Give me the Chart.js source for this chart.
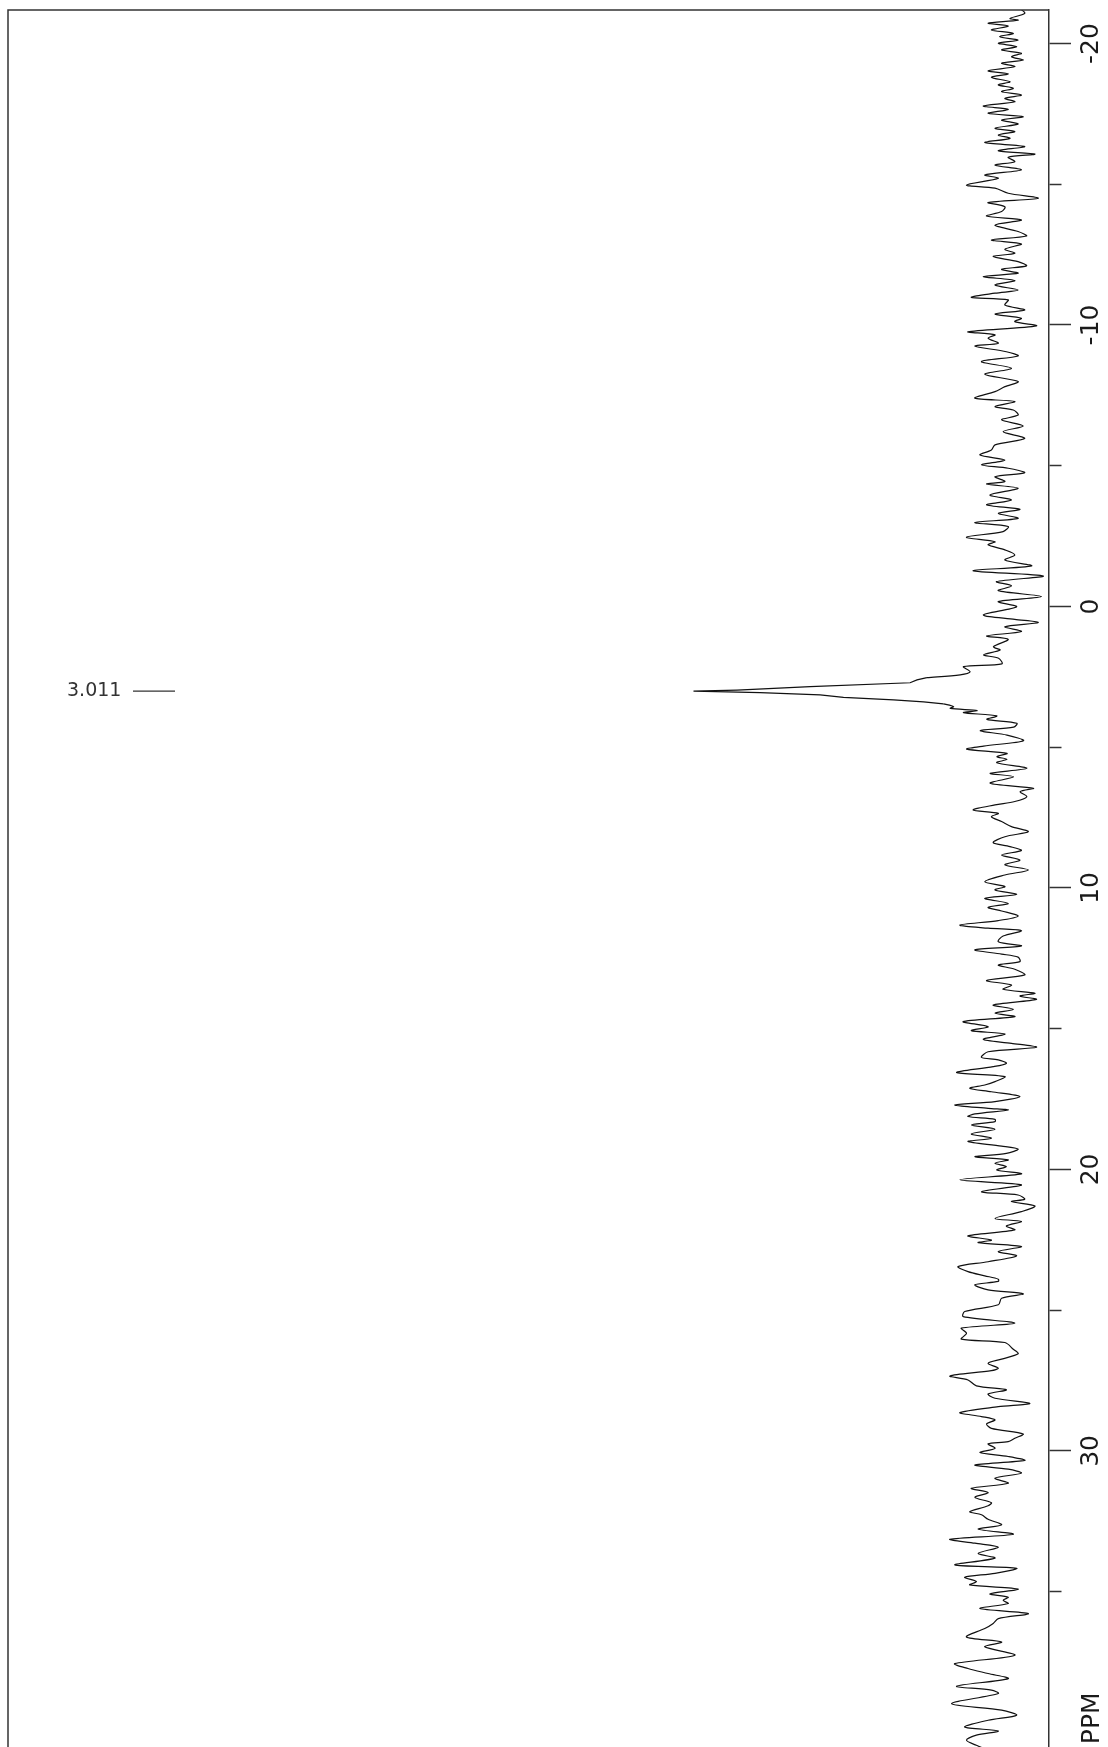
<!DOCTYPE html>
<html>
<head>
<meta charset="utf-8">
<script src="https://cdn.jsdelivr.net/npm/chart.js@4"></script>
<style>
  html, body { margin: 0; padding: 0; background: #fff; overflow: hidden; }
</style>
</head>
<body>
<canvas id="nmr" width="1108" height="1747"></canvas>
<script>
// chemical shift (ppm) of each trace point, top of the plot to bottom
const ppm = [
  -21.25, -21.07, -20.89, -20.83, -20.72, -20.62, -20.48, -20.36, -20.24, -20.12,
  -20.01, -19.89, -19.77, -19.65, -19.53, -19.41, -19.30, -19.18, -19.03, -18.92,
  -18.80, -18.64, -18.53, -18.41, -18.29, -18.17, -18.05, -17.93, -17.78, -17.66,
  -17.52, -17.40, -17.28, -17.14, -16.99, -16.87, -16.75, -16.63, -16.48, -16.34,
  -16.19, -16.07, -15.96,
  -15.80, -15.68, -15.51, -15.33, -15.21, -14.97, -14.86, -14.68, -14.50, -14.35,
  -14.20, -14.03, -13.87, -13.73, -13.55, -13.32, -13.16, -13.02, -12.88, -12.69,
  -12.55, -12.43, -12.25, -12.10, -11.98, -11.84, -11.72, -11.58, -11.42, -11.24,
  -11.13, -10.98, -10.89, -10.71, -10.53, -10.39, -10.24,
  -10.12, -9.97, -9.76, -9.65, -9.53, -9.35, -9.25, -9.05, -8.90, -8.70,
  -8.46, -8.25, -7.99, -7.81, -7.63, -7.40, -7.28, -7.10, -6.98, -6.80,
  -6.63, -6.41, -6.21, -5.97, -5.74, -5.56, -5.38, -5.20, -5.03, -4.91,
  -4.75, -4.61,
  -4.44, -4.35, -4.20, -3.96, -3.78, -3.61, -3.45, -3.31, -3.13, -2.98,
  -2.84, -2.66, -2.46, -2.30, -2.19, -2.01, -1.83, -1.65, -1.44, -1.27,
  -1.08, -0.88, -0.73, -0.56, -0.35, -0.17, 0.01, 0.30, 0.46, 0.57,
  0.72, 0.89, 1.05, 1.17,
  1.43, 1.55, 1.72, 1.84, 2.04, 2.14, 2.32, 2.43, 2.53, 2.61,
  2.71, 2.85, 2.97, 3.011, 3.06, 3.14, 3.23, 3.32, 3.39, 3.46,
  3.56, 3.62, 3.70, 3.77, 3.89, 4.01, 4.15, 4.29, 4.41, 4.57,
  4.77, 4.96, 5.07, 5.22, 5.34, 5.43, 5.55, 5.75, 5.93, 6.05,
  6.28, 6.46, 6.58, 6.76,
  6.93, 7.05, 7.23, 7.35, 7.47, 7.64, 7.82, 8.00, 8.18, 8.39,
  8.53, 8.67, 8.83, 9.01, 9.18, 9.36, 9.54, 9.78, 9.95, 10.07,
  10.23, 10.37, 10.55, 10.69, 10.82, 11.00, 11.16, 11.32, 11.43, 11.52,
  11.71, 11.91, 12.06, 12.20, 12.35, 12.46,
  12.62, 12.74, 12.89, 13.09, 13.29, 13.45, 13.60, 13.74, 13.84, 13.96,
  14.16, 14.31, 14.45, 14.57, 14.75, 14.93, 15.07, 15.19, 15.38, 15.52,
  15.66, 15.82, 16.02, 16.11, 16.23, 16.35, 16.56, 16.70, 16.88, 17.00,
  17.12, 17.24, 17.41, 17.59, 17.71, 17.83, 17.89, 18.03, 18.12, 18.22,
  18.30, 18.42, 18.57, 18.74, 18.89, 19.01, 19.17, 19.28, 19.43, 19.55,
  19.66, 19.78, 19.90, 20.02, 20.16, 20.37, 20.55, 20.79, 20.91, 21.06,
  21.14, 21.30, 21.50, 21.74, 21.85, 22.01, 22.15, 22.36, 22.51, 22.60,
  22.74, 22.92, 23.07, 23.28, 23.45, 23.63, 23.78, 23.90,
  23.98, 24.10, 24.28, 24.42, 24.58, 24.81, 25.05, 25.23, 25.46, 25.64,
  25.82, 26.03, 26.15, 26.39, 26.55, 26.74, 26.89, 27.06, 27.15, 27.34,
  27.48, 27.69, 27.83, 27.98, 28.13, 28.31, 28.43, 28.64, 28.78, 28.90,
  29.04, 29.20, 29.40, 29.55,
  29.67, 29.75, 29.91, 30.06, 30.20, 30.34, 30.50, 30.65, 30.79, 30.97,
  31.15, 31.33, 31.48, 31.65, 31.84, 31.95, 32.16, 32.27, 32.43, 32.63,
  32.78, 32.96, 33.14, 33.28, 33.42, 33.64, 33.81, 34.05, 34.17, 34.35,
  34.49, 34.64, 34.76, 34.91, 35.08, 35.20,
  35.31, 35.42, 35.60, 35.78, 35.96, 36.13, 36.31, 36.61, 36.79, 36.96,
  37.26, 37.56, 37.73, 37.91, 38.09, 38.36, 38.50, 38.62, 38.98, 39.21,
  39.39, 39.57, 39.81, 39.95, 40.10, 40.28, 40.46, 40.63
];

// signal intensity (arbitrary units), same order as ppm
const intensity = [
  -6.6, -8.2, -3.3, -6.0, 4.0, -2.7, 2.9, -4.4, 0.1, -6.0,
  0.6, -5.5, -0.5, -7.1, -3.8, -7.7, -0.5, -4.9, 4.0, -2.7,
  2.9, -3.3, 0.6, -4.4, -0.5, -7.1, -1.6, -4.9, 5.6, -2.7,
  4.0, -7.7, -0.5, -6.0, 1.7, -4.9, 0.6, -3.3, 5.1, -8.2,
  0.6, -11.6, -2.7,
  -4.9, 1.7, -7.1, 5.1, 0.6, 11.2, 1.7, -2.7, -12.7, 4.0,
  -1.6, -0.5, 4.5, -7.1, 1.7, -6.0, -8.8, 2.9, -7.1, -1.6,
  -4.9, 2.3, -6.0, -8.8, -0.5, -6.0, 5.6, -4.9, 1.7, -6.0,
  1.7, 9.6, -2.7, -1.6, -8.2, 1.7, -7.1,
  -4.9, -12.1, 10.7, 1.7, 4.0, 0.6, 8.4, -2.1, -6.0, 6.2,
  -3.8, 5.1, -6.0, -1.6, 1.7, 8.4, -4.9, 1.7, -4.4, -6.0,
  -0.5, -7.7, -1.0, -8.2, 1.7, 2.9, 6.7, -1.6, 6.2, -2.7,
  -8.2, 1.7,
  -1.6, 4.5, -6.0, 3.4, -3.8, 4.5, -6.6, 0.6, -6.0, 8.4,
  -2.7, -1.0, 11.2, 1.7, 4.0, -1.6, -4.9, -1.6, -10.5, 9.0,
  -14.4, 1.2, -3.8, 0.6, -13.8, 0.6, -5.5, 5.6, -4.9, -12.7,
  -1.6, -7.1, 4.5, -2.7,
  2.2, 0.0, 5.5, 0.5, -0.6, 12.2, 10.0, 13.3, 24.4, 27.7,
  30.0, 63.3, 87.7, 102.2, 80.0, 60.0, 52.2, 35.5, 25.5, 18.9,
  15.5, 16.6, 7.7, 12.2, 1.1, 4.4, -5.6, -4.5, 6.6, -2.3,
  -7.8, 5.5, 11.1, -2.3, 1.1, -2.3, 1.1, -8.9, 3.3, -4.5,
  3.3, -11.1, -6.7, -8.9,
  -4.9, 1.7, 9.0, 0.6, 2.9, -0.5, -3.8, -9.4, -1.6, 2.3,
  -3.3, -7.1, -0.5, -6.6, -1.6, -9.4, -1.6, 5.1, -1.6, 1.7,
  -5.5, 5.1, -2.7, 4.0, -0.5, -6.0, 0.6, 13.4, 4.0, -7.1,
  -1.0, 0.6, -7.1, 8.4, -0.5, -6.0,
  -6.6, 0.6, -4.9, -8.2, 4.5, -3.8, -1.0, -11.6, -6.6, -12.1,
  2.3, -4.4, 1.7, -4.9, 12.3, 4.0, 9.6, -1.6, 5.6, -3.8,
  -12.1, 4.0, 6.2, 0.6, -2.1, 2.3, 14.5, -1.6, 1.7, 5.1,
  10.1, 2.9, -6.6, 1.7, 15.1, 4.0, -2.7, 8.4, 10.7, 1.7,
  1.7, 9.6, 1.7, 9.6, 2.9, 10.7, -0.5, -6.0, -2.1, 8.4,
  -2.7, 1.7, -2.1, 1.1, -7.1, 13.4, -7.1, 6.2, -6.0, -8.2,
  -3.8, -11.6, -7.1, 1.7, -7.1, -2.1, -4.9, 10.7, 2.9, 7.3,
  -7.1, 0.6, -5.5, 4.0, 14.0, 10.7, 5.1, 0.6,
  0.6, 8.4, 4.0, -7.7, -0.5, 0.6, 11.8, 12.3, -4.9, 12.9,
  11.2, 12.9, -1.6, -4.4, -6.0, -0.5, 4.0, 0.6, 2.9, 16.7,
  10.7, 7.9, -2.1, 4.0, 1.7, -9.9, 0.6, 13.4, 6.2, 1.7,
  4.5, 2.9, -7.7, -4.9,
  -2.7, 4.0, 1.7, 6.7, -2.7, -8.2, 8.4, -2.7, -7.1, 1.7,
  -2.7, 9.6, 4.0, 8.4, 2.9, 4.0, 10.1, 6.2, 4.0, -0.5,
  7.3, -4.4, 16.7, 8.4, 0.6, 7.3, 1.7, 15.1, -5.5, 1.7,
  11.8, 7.9, 10.1, -6.0, 3.4, -2.7,
  -1.0, -2.7, 6.7, -9.4, 0.6, 2.3, 5.1, 11.2, -0.5, 5.1,
  -4.9, 15.1, 10.7, 4.0, -2.7, 14.5, 2.9, 0.6, 16.2, -0.5,
  -5.5, 4.0, 11.8, 0.6, 7.9, 11.2, 7.9, 4.0
];

// axis ticks: labelled every 10 ppm, plain marks in between
const ppmTicks = [-20, -15, -10, -5, 0, 5, 10, 15, 20, 25, 30, 35];
const labelledTicks = [-20, -10, 0, 10, 20, 30];
const ppmRange = [-21.19, 40.52];
const intensityRange = [-16.3, 330.7];

const peakShift = 3.011;
const peakLabel = '3.011';
const peakBase = [2.53, 3.46];   // the peak itself is drawn with straight segments
const unitLabel = 'PPM';
const unitAt = 39.5;

if (ppm.length !== intensity.length) console.error('length mismatch', ppm.length, intensity.length);

const points = ppm.map((p, i) => ({ x: intensity[i], y: p }));
const noiseBefore = points.filter(p => p.y <= peakBase[0]);
const peakPart = points.filter(p => p.y >= peakBase[0] && p.y <= peakBase[1]);
const noiseAfter = points.filter(p => p.y >= peakBase[1]);

const FONT = '"DejaVu Sans", Verdana, sans-serif';

const trace = (data, tension) => ({
  data,
  showLine: true,
  borderColor: '#111',
  borderWidth: 1.2,
  pointRadius: 0,
  tension,
  fill: false
});

const extras = {
  id: 'extras',
  afterDraw(chart) {
    const { ctx, chartArea: a, scales: { y } } = chart;
    ctx.save();
    // left and top sides of the frame
    ctx.strokeStyle = '#333';
    ctx.lineWidth = 1.5;
    ctx.beginPath();
    ctx.moveTo(a.left, a.bottom + 2);
    ctx.lineTo(a.left, a.top);
    ctx.lineTo(a.right, a.top);
    ctx.stroke();

    // peak marker
    const py = y.getPixelForValue(peakShift);
    ctx.fillStyle = '#333';
    ctx.font = '19px ' + FONT;
    ctx.textAlign = 'left';
    ctx.textBaseline = 'middle';
    ctx.fillText(peakLabel, 67, py);
    ctx.lineWidth = 1.2;
    ctx.beginPath();
    ctx.moveTo(133, py);
    ctx.lineTo(175, py);
    ctx.stroke();

    // unit label, written bottom-to-top like the tick labels
    ctx.translate(1092, y.getPixelForValue(unitAt));
    ctx.rotate(-Math.PI / 2);
    ctx.font = '25px ' + FONT;
    ctx.fillStyle = '#1a1a1a';
    ctx.textAlign = 'center';
    ctx.fillText(unitLabel, 0, 0);
    ctx.restore();
  }
};

new Chart(document.getElementById('nmr'), {
  type: 'scatter',
  data: {
    datasets: [trace(noiseBefore, 0.3), trace(peakPart, 0), trace(noiseAfter, 0.3)]
  },
  options: {
    responsive: false,
    animation: false,
    devicePixelRatio: 1,
    layout: { padding: { left: 8, top: 10, right: 0, bottom: 0 } },
    plugins: { legend: { display: false }, tooltip: { enabled: false } },
    scales: {
      x: {
        type: 'linear',
        display: false,
        reverse: true,
        min: intensityRange[0],
        max: intensityRange[1]
      },
      y: {
        type: 'linear',
        position: 'right',
        reverse: true,
        min: ppmRange[0],
        max: ppmRange[1],
        afterBuildTicks: s => { s.ticks = ppmTicks.map(v => ({ value: v })); },
        afterFit: s => { s.width = 59; s.paddingTop = 0; s.paddingBottom = 0; },
        border: { display: true, color: '#333', width: 1.5 },
        grid: {
          drawOnChartArea: false,
          drawTicks: true,
          tickLength: 22,
          tickColor: '#333',
          tickWidth: 1.5,
          tickBorderDash: c => (c.tick && !labelledTicks.includes(c.tick.value)) ? [12, 60] : []
        },
        ticks: {
          minRotation: 90,
          maxRotation: 90,
          crossAlign: 'center',
          padding: 0,
          color: '#1a1a1a',
          font: { family: FONT, size: 25 },
          callback: v => labelledTicks.includes(v) ? String(v) : ''
        }
      }
    }
  },
  plugins: [extras]
});
</script>
</body>
</html>
